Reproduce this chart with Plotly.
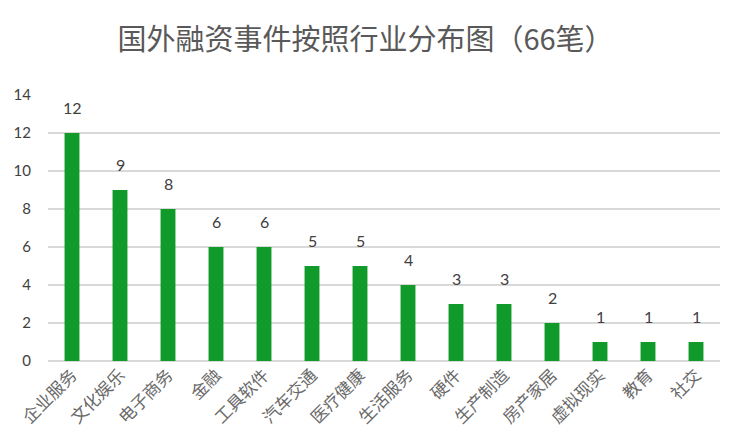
import plotly.graph_objects as go

categories = ["企业服务", "文化娱乐", "电子商务", "金融", "工具软件", "汽车交通", "医疗健康",
              "生活服务", "硬件", "生产制造", "房产家居", "虚拟现实", "教育", "社交"]
counts = [12, 9, 8, 6, 6, 5, 5, 4, 3, 3, 2, 1, 1, 1]
y_ticks = [0, 2, 4, 6, 8, 10, 12, 14]

fig = go.Figure()
fig.add_trace(go.Bar(
    x=categories, y=counts,
    marker=dict(color="#0f9a2a", line=dict(width=0)),
    width=0.31,
))

# value labels sit well above each bar, like the original
for cat, val in zip(categories, counts):
    fig.add_annotation(
        x=cat, y=val, text=str(val), showarrow=False,
        yanchor="bottom", yshift=14,
        font=dict(size=16, color="#404040", family="Lato, Open Sans"),
    )

# page has an 8px body margin, so the figure is a bit smaller than the window
fig.update_layout(
    width=715, height=432,
    margin=dict(l=40, r=3, t=87, b=79),
    paper_bgcolor="white", plot_bgcolor="white",
    title=dict(text="国外融资事件按照行业分布图（66笔）", x=0.5, xanchor="center",
               y=0.926, yanchor="middle",
               font=dict(size=29, color="#595959", family="Noto Sans CJK SC")),
    showlegend=False,
)
fig.update_xaxes(
    range=[-0.5, 13.5], tickangle=-45, showgrid=False, showline=False, ticks="",
    automargin=False,
    tickfont=dict(size=17, color="#6a6a6a", family="Noto Sans CJK SC"),
)
fig.update_yaxes(
    range=[0, 14], tickvals=y_ticks, showgrid=True, gridcolor="#d9d9d9", gridwidth=2,
    zeroline=True, zerolinecolor="#d9d9d9", zerolinewidth=2, ticks="",
    automargin=False, ticklabelstandoff=16,
    tickfont=dict(size=15, color="#404040", family="Lato, Open Sans"),
)

fig.write_html("out.html")
